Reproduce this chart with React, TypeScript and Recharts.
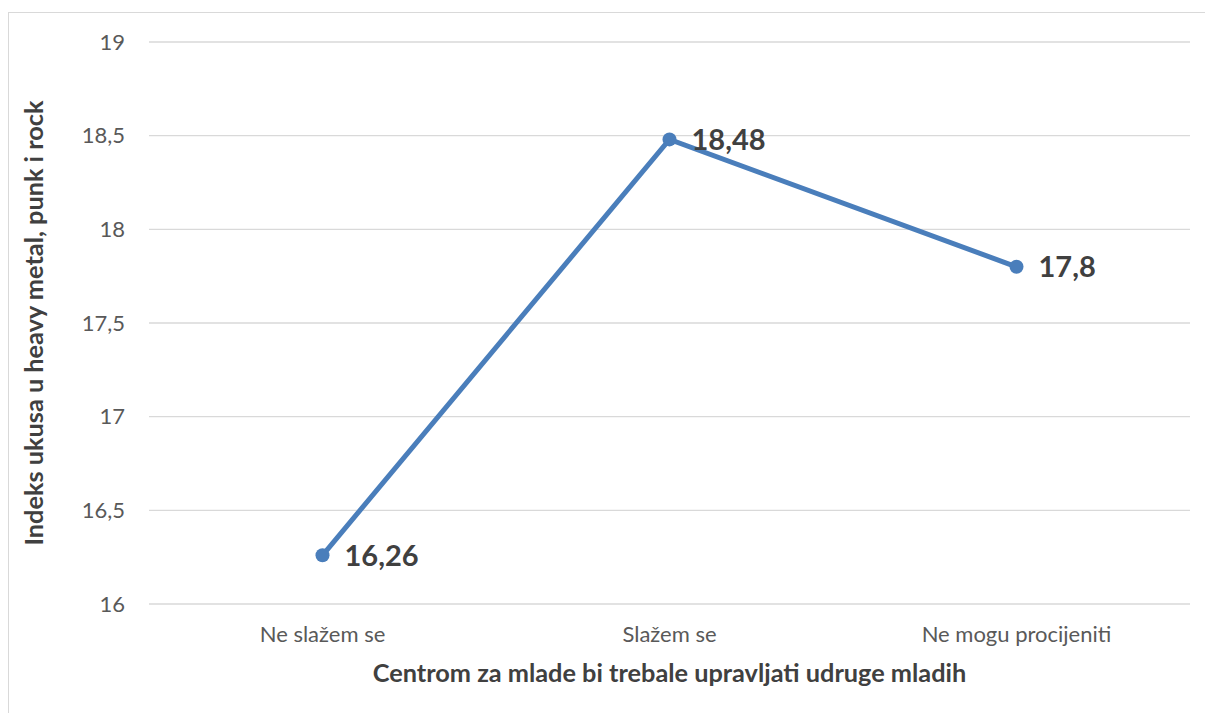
import { LineChart, Line, XAxis, YAxis, CartesianGrid, LabelList, Label } from 'recharts'

const categories = ['Ne slažem se', 'Slažem se', 'Ne mogu procijeniti']
const values = [16.26, 18.48, 17.8]
const yTicks = [16, 16.5, 17, 17.5, 18, 18.5, 19]

const data = categories.map((name, i) => ({ name, value: values[i] }))

const FONT = 'Lato, "Open Sans", sans-serif'
const comma = (v: number) => String(v).replace('.', ',')

export default function App() {
  return (
    <div style={{ position: 'fixed', inset: 0, overflow: 'hidden', background: '#fff' }}>
      <div style={{
        position: 'absolute', left: 8, top: 12, width: 1220, height: 720,
        border: '1px solid #d9d9d9', boxSizing: 'border-box', fontFamily: FONT
      }}>
        <LineChart width={1196} height={701} data={data}
          margin={{ top: 29, right: 15, bottom: 0, left: 0 }}>
          <CartesianGrid vertical={false} stroke="#d9d9d9" strokeWidth={1.3} />
          <XAxis dataKey="name" scale="band" axisLine={false} tickLine={false}
            tickSize={0} tickMargin={22} height={110} interval={0}
            tick={{ fill: '#595959', fontSize: 22, fontFamily: FONT }}>
            <Label content={({ viewBox }: any) => (
              <text x={viewBox.x + viewBox.width / 2} y={viewBox.y + 78}
                textAnchor="middle" fill="#404040" fontSize={25.3}
                fontWeight="bold" fontFamily={FONT}>
                Centrom za mlade bi trebale upravljati udruge mladih
              </text>
            )} />
          </XAxis>
          <YAxis domain={[16, 19]} ticks={yTicks} width={140}
            axisLine={false} tickLine={false} tickSize={0} tickMargin={24}
            tickFormatter={comma} interval={0}
            tick={{ fill: '#595959', fontSize: 22, fontFamily: FONT }}>
            <Label content={({ viewBox }: any) => {
              const cx = 24
              const cy = viewBox.y + viewBox.height / 2
              return (
                <text x={cx} y={cy} transform={`rotate(-90 ${cx} ${cy})`}
                  textAnchor="middle" dominantBaseline="central" fill="#404040"
                  fontSize={25.3} fontWeight="bold" fontFamily={FONT}>
                  Indeks ukusa u heavy metal, punk i rock
                </text>
              )
            }} />
          </YAxis>
          <Line dataKey="value" stroke="#4a7ebb" strokeWidth={5}
            dot={{ r: 7, fill: '#4a7ebb', stroke: '#4a7ebb', strokeWidth: 0 }}
            isAnimationActive={false}>
            <LabelList dataKey="value" position="right" offset={22}
              formatter={comma}
              style={{ fill: '#404040', fontSize: 29, fontWeight: 'bold', fontFamily: FONT }} />
          </Line>
        </LineChart>
      </div>
    </div>
  )
}
